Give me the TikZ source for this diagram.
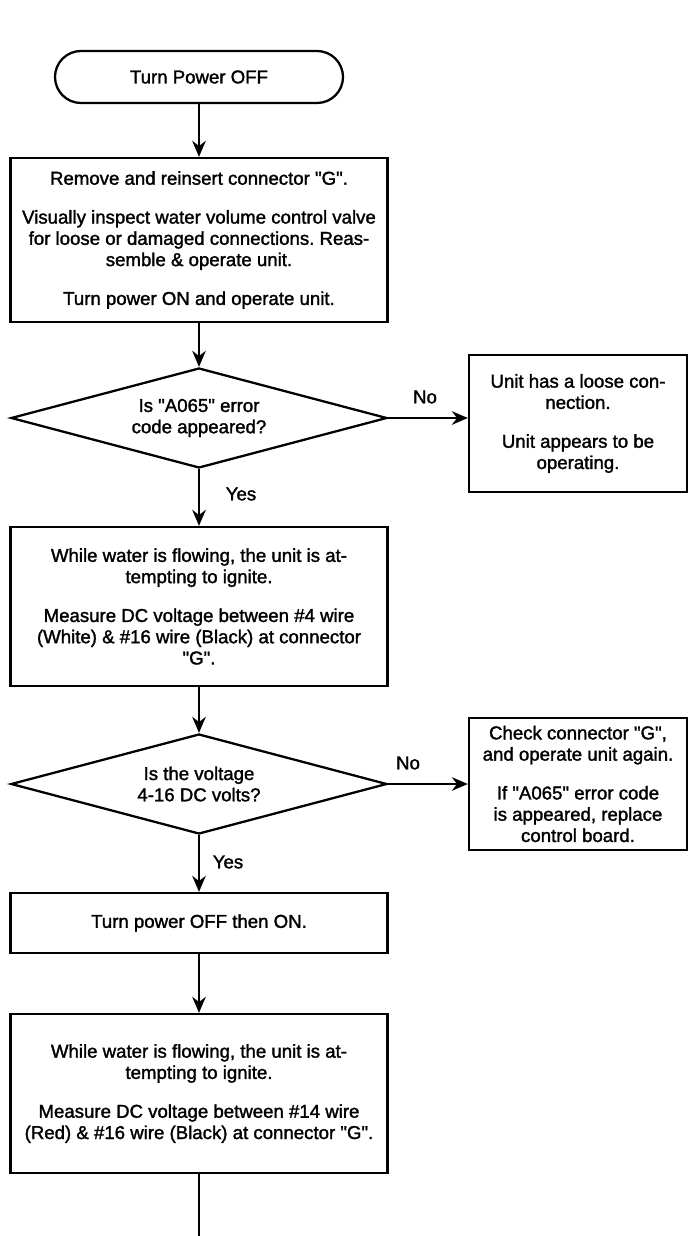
\documentclass[tikz,border=0pt]{standalone}
\usepackage{fontspec}
\setmainfont{Liberation Sans}[FakeBold=1.6]
\usetikzlibrary{shapes.geometric,arrows.meta}
\newcommand{\dq}{\textquotedbl}
\frenchspacing

\begin{document}
\begin{tikzpicture}[
  font=\fontsize{10.6}{12.1}\selectfont,
  line width=1.3pt,
  >={Stealth[length=0.32cm,width=0.27cm]},
  box/.style={draw, align=center, minimum width=7.54cm, inner sep=2pt},
  sidebox/.style={draw, align=center, minimum width=4.36cm, inner sep=2pt},
  decide/.style={draw, diamond, aspect=3.76, align=center, inner sep=0pt,
    minimum width=7.52cm, minimum height=2cm}
]
\useasboundingbox (0,0) rectangle (13.86,-24.72);

\node[draw, rounded corners=0.52cm, minimum width=5.76cm, minimum height=1.04cm] (off) at (3.98,-1.54) {Turn Power OFF};
\node[box, minimum height=3.28cm] (fix) at (3.98,-4.80) {Remove and reinsert connector \dq G\dq.\\[10pt]
  Visually inspect water volume control valve\\ for loose or damaged connections. Reas-\\ semble \& operate unit.\\[10pt]
  Turn power ON and operate unit.};
\node[decide] (q1) at (3.98,-8.36) {Is \dq A065\dq\ error\\ code appeared?};
\node[sidebox, minimum height=2.74cm] (ok) at (11.56,-8.47) {Unit has a loose con-\\ nection.\\[10pt] Unit appears to be\\ operating.};
\node[box, minimum height=3.18cm] (ign1) at (3.98,-12.13) {While water is flowing, the unit is at-\\ tempting to ignite.\\[10pt]
  Measure DC voltage between \#4 wire\\ (White) \& \#16 wire (Black) at connector\\ \dq G\dq.};
\node[decide] (q2) at (3.98,-15.68) {Is the voltage\\ 4-16 DC volts?};
\node[sidebox, minimum height=2.64cm] (chk) at (11.56,-15.68) {Check connector \dq G\dq,\\ and operate unit again.\\[10pt] If \dq A065\dq\ error code\\ is appeared, replace\\ control board.};
\node[box, minimum height=1.2cm] (cyc) at (3.98,-18.46) {Turn power OFF then ON.};
\node[box, minimum height=3.18cm] (ign2) at (3.98,-21.87) {While water is flowing, the unit is at-\\ tempting to ignite.\\[10pt]
  Measure DC voltage between \#14 wire\\ (Red) \& \#16 wire (Black) at connector \dq G\dq.};
\coordinate (more) at (3.98,-24.72);

% branch labels
\node (no1) at (8.5,-7.94) {No};
\node (yes1) at (4.82,-9.88) {Yes};
\node (no2) at (8.16,-15.26) {No};
\node (yes2) at (4.56,-17.24) {Yes};

\draw[->] (off) -- (fix);
\draw[->] (fix) -- (q1);
\draw[->] (q1.east) -- (q1.east -| ok.west);
\draw[->] (q1) -- (ign1);
\draw[->] (ign1) -- (q2);
\draw[->] (q2.east) -- (q2.east -| chk.west);
\draw[->] (q2) -- (cyc);
\draw[->] (cyc) -- (ign2);
\draw (ign2) -- (more);
\end{tikzpicture}
\end{document}
